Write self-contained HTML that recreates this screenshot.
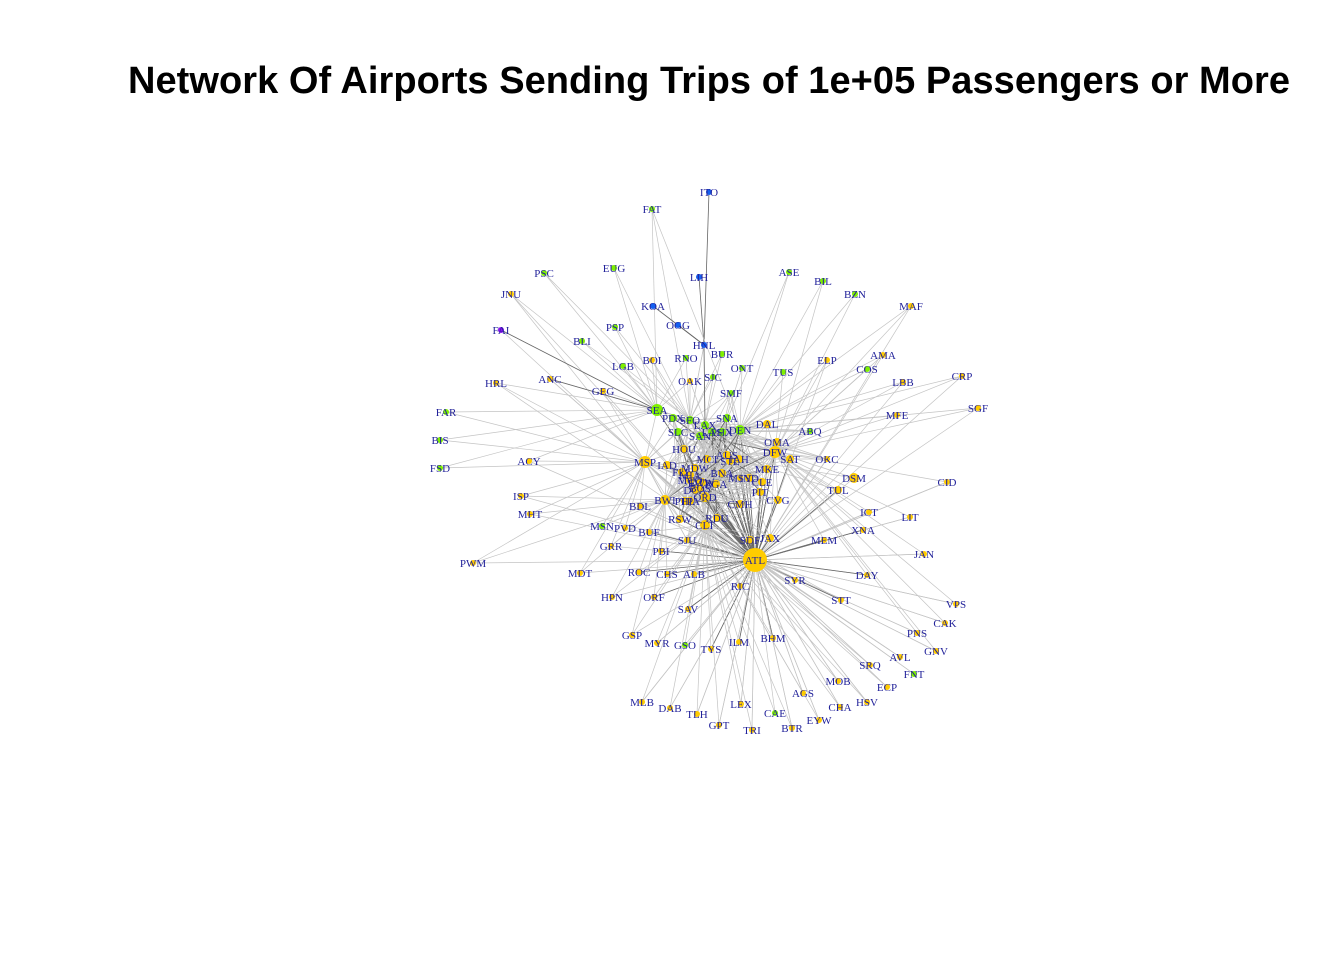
<!DOCTYPE html>
<html><head><meta charset="utf-8">
<style>
html,body{margin:0;padding:0;background:#fff;width:1344px;height:960px;overflow:hidden}
svg{display:block}
.t{font-family:"Liberation Sans",sans-serif;font-weight:bold;font-size:38px;fill:#000}
.l{font-family:"Liberation Serif",serif;font-size:11px;fill:#22229a}
</style></head><body>
<svg id="chart" width="1344" height="960">
<text class="t" x="709" y="93" text-anchor="middle" textLength="1162">Network Of Airports Sending Trips of 1e+05 Passengers or More</text>
<g id="edges"></g>
<g id="nodes"></g>
<g id="labels"></g>
</svg>
<script>
// layout positions (from graph layout) and group
const names=["ATL","ITO","FAT","LIH","KOA","OGG","HNL","PSC","EUG","JNU","FAI","PSP","BLI","BOI","RNO","BUR","LGB","ONT","SJC","OAK","SMF","GEG","ANC","HRL","SEA","PDX","SFO","LAX","SNA","SLC","SAN","LAS","PHX","DEN","DAL","ABQ","TUS","ELP","COS","AMA","LBB","CRP","SGF","MFE","ASE","BIL","BZN","MAF","FAR","BIS","FSD","ACY","MSP","IAD","HOU","MCI","STL","AUS","IAH","OMA","DFW","SAT","OKC","MDW","BNA","MKE","IND","CLE","PIT","EWR","LGA","BOS","DCA","ORD","BWI","PHL","TPA","DTW","CMH","CVG","DSM","TUL","CID","ICT","LIT","XNA","MEM","JAN","BDL","ISP","MHT","MSN","PVD","BUF","RSW","CLT","RDU","SJU","FLL","MIA","MCO","JAX","SDF","GRR","PBI","PWM","MDT","ROC","CHS","ALB","RIC","HPN","ORF","SAV","SYR","DAY","STT","VPS","CAK","PNS","GNV","GSP","MYR","GSO","TYS","ILM","BHM","SRQ","AVL","FNT","MOB","ECP","HSV","AGS","CHA","MLB","DAB","TLH","LEX","CAE","GPT","TRI","BTR","EYW","MSY","MDW2"];
const xs=[755,709,652,699,653,678,704,544,614,511,501,615,582,652,686,722,623,742,713,690,731,603,550,496,657,673,690,705,727,678,700,712,722,740,767,810,783,827,867,883,903,962,978,897,789,823,855,911,446,440,440,529,645,667,684,707,730,727,739,777,775,790,827,695,722,767,749,762,760,700,716,700,695,705,665,685,690,702,740,778,854,838,947,869,910,863,824,924,640,521,530,602,625,649,680,705,717,687,682,690,690,770,750,611,661,473,580,639,667,694,740,612,654,688,795,867,841,956,945,917,936,632,657,685,711,739,773,870,900,914,838,887,867,803,840,642,670,697,741,775,719,752,792,819,740,689];
const ys=[560,192,209,277,306,325,345,273,268,294,330,327,341,360,358,354,366,368,377,381,393,391,379,383,410,418,420,425,418,432,436,432,432,430,424,431,372,360,369,355,382,376,408,415,272,281,294,306,412,440,468,461,462,465,449,459,461,455,459,442,452,459,459,468,473,469,478,482,492,483,484,488,490,497,500,501,501,482,504,500,478,490,482,512,517,530,540,554,506,496,514,526,528,532,519,525,518,540,472,475,480,538,540,546,551,563,573,572,574,574,586,597,597,609,580,575,600,604,623,633,651,635,643,645,649,642,638,665,657,674,681,687,702,693,707,702,708,714,704,713,725,730,728,720,478,478];
const grp=["y","b","g","b","b","b","b","g","g","y","p","g","g","y","g","g","g","g","g","y","g","y","y","y","g","g","g","g","g","g","g","g","g","g","y","g","g","y","g","y","y","y","y","y","g","g","g","y","g","g","g","y","y","y","y","y","y","y","y","y","y","y","y","y","y","y","y","y","y","y","y","y","y","y","y","y","y","y","y","y","y","y","y","y","y","y","y","y","y","y","y","g","y","y","y","y","y","y","y","y","y","y","y","y","y","y","y","y","y","y","y","y","y","y","y","y","y","y","y","y","y","y","y","g","y","y","y","y","y","g","y","y","y","y","y","y","y","y","y","g","y","y","y","y","y","y"];
const sizes=[12,3,3,3,3,3,3,3,3,3,3,3,3,3,3,3,3,3,3,3,3,3,3,3,6,4,4,4,4,4,4,4,4,5,4,3,3,3,3,3,3,3,3,3,3,3,3,3,3,3,3,3,6,4,4,4,4,4,4,4,6,4,3,4,4,4,4,4,4,4,4,4,4,5,5,4,4,4,4,4,5,4,3,3,3,3,3,3,3,3,3,3,3,3,4,5,4,3,4,4,4,4,4,3,3,3,3,3,3,3,3,3,3,3,3,3,3,3,3,3,3,3,3,3,3,3,3,3,3,3,3,3,3,3,3,3,3,3,3,3,3,3,3,3,3,3];
const hubNames=["ATL","SEA","MSP","DFW","ORD","DEN","LAX","SFO","CLT","BWI","DTW","PHX","LAS","IAH"];
const colorMap={y:"#FFCC00",g:"#7FF000",b:"#1560F0",p:"#8A10F0"};
const NS="http://www.w3.org/2000/svg";
const idx={};names.forEach((n,i)=>idx[n]=i);
const eg=document.getElementById('edges'),ng=document.getElementById('nodes'),lg=document.getElementById('labels');
function line(a,b,dark){
  const l=document.createElementNS(NS,'line');
  l.setAttribute('x1',xs[a]);l.setAttribute('y1',ys[a]);l.setAttribute('x2',xs[b]);l.setAttribute('y2',ys[b]);
  l.setAttribute('stroke',dark?'#666':'#c4c4c4');l.setAttribute('stroke-width',dark?0.8:0.7);
  
  
  eg.appendChild(l);
}
names.forEach((n,i)=>{
  if(grp[i]==="b"&&n!=="HNL"){line(i,idx.HNL,true);return;}
  if(hubNames.includes(n)&&n!=="ATL"){line(i,idx.ATL,true);}
  const hs=hubNames.map(h=>idx[h]).filter(h=>h!==i);
  hs.sort((a,b)=>Math.hypot(xs[a]-xs[i],ys[a]-ys[i])-Math.hypot(xs[b]-xs[i],ys[b]-ys[i]));
  const k=Math.hypot(xs[i]-740,ys[i]-470)<90?6:2;
  for(let j=0;j<k;j++)line(i,hs[j],false);
  if(grp[i]==="y"&&n!=="ATL")line(i,idx.ATL,Math.hypot(xs[i]-755,ys[i]-560)<120);
});
// dense core connections
const core=names.map((n,i)=>i).filter(i=>Math.hypot(xs[i]-715,ys[i]-465)<65&&names[i]!=="MDW2");
core.forEach((a,ai)=>core.forEach((b,bi)=>{if(bi>ai&&(ai*7+bi*3)%4===0)line(a,b,(ai+bi)%5===0);}));
line(idx.HNL,idx.LAX,true);line(idx.HNL,idx.SFO,false);
line(idx.ANC,idx.SEA,true);line(idx.FAI,idx.SEA,true);line(idx.FAT,idx.DEN,false);
names.forEach((n,i)=>{
  const c=document.createElementNS(NS,'circle');
  c.setAttribute('cx',xs[i]);c.setAttribute('cy',ys[i]);c.setAttribute('r',sizes[i]);
  c.setAttribute('fill',colorMap[grp[i]]);
  
  
  ng.appendChild(c);
  if(n==="MDW2")return;
  const t=document.createElementNS(NS,'text');
  t.setAttribute('x',xs[i]);t.setAttribute('y',ys[i]+4);t.setAttribute('text-anchor','middle');
  t.setAttribute('class','l');t.textContent=n;
  
  
  lg.appendChild(t);
});
</script>
</body></html>
